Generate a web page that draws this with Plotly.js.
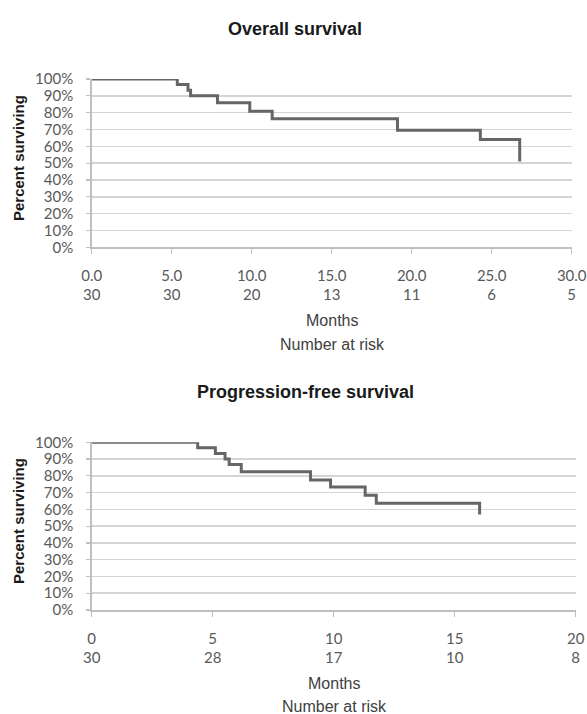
<!DOCTYPE html>
<html>
<head>
<meta charset="utf-8">
<script src="https://cdn.plot.ly/plotly-3.0.1.min.js"></script>
<style>html,body{margin:0;padding:0;background:#fff;}#chart{width:587px;height:714px;}</style>
</head>
<body>
<div id="chart"></div>
<script>
// Overall survival
const osMonths = [0, 5.35, 6.02, 6.18, 7.86, 9.88, 11.28, 19.11, 24.29, 26.75];
const osSurv   = [100, 96.7, 93.3, 90, 85.9, 80.8, 76.4, 69.6, 64, 51];
const osTicks  = [0, 5, 10, 15, 20, 25, 30];
const osTickLabels = ['0.0', '5.0', '10.0', '15.0', '20.0', '25.0', '30.0'];
const osAtRisk = [30, 30, 20, 13, 11, 6, 5];

// Progression-free survival
const pfsMonths = [0, 4.38, 5.11, 5.51, 5.68, 6.18, 9.04, 9.87, 11.3, 11.76, 16.03];
const pfsSurv   = [100, 96.7, 93.3, 90, 86.7, 82.5, 77.5, 73.3, 68.5, 63.6, 57];
const pfsTicks  = [0, 5, 10, 15, 20];
const pfsTickLabels = ['0', '5', '10', '15', '20'];
const pfsAtRisk = [30, 28, 17, 10, 8];

const yTicks = [0, 10, 20, 30, 40, 50, 60, 70, 80, 90, 100];
const yTickLabels = yTicks.map(v => v + '%');

const tickFont = {family: 'Lato, "Open Sans", sans-serif', size: 15, color: '#595959'};
const titleFont = {family: '"Liberation Sans", Arial, sans-serif', size: 18, color: '#1a1a1a'};
const labelFont = {family: '"Liberation Sans", Arial, sans-serif', size: 16, color: '#404040'};
const yTitleFont = {family: '"Liberation Sans", Arial, sans-serif', size: 15, color: '#1a1a1a'};

const H = 714, W = 587;
const py = v => 1 - v / H;
const px = v => v / W;

function xAxis(ticks, labels, risk, domain, range) {
  return {
    domain: domain, range: range, tickmode: 'array', tickvals: ticks,
    ticktext: labels.map((l, i) => l + '<br>' + risk[i]),
    showgrid: false, zeroline: false, showline: true, linecolor: '#bfbfbf', linewidth: 1.5,
    ticks: 'outside', ticklen: 5, tickcolor: '#bfbfbf', tickwidth: 1.2,
    tickfont: tickFont, ticklabelstandoff: 9, fixedrange: true
  };
}
function yAxis(domain, anchor) {
  return {
    domain: domain, range: [0, 100], anchor: anchor, tickmode: 'array', tickvals: yTicks, ticktext: yTickLabels,
    showgrid: true, gridcolor: '#d4d4d4', gridwidth: 1.5, zeroline: false,
    showline: true, linecolor: '#bfbfbf', linewidth: 1.5,
    ticks: 'outside', ticklen: 4, tickcolor: '#bfbfbf', tickwidth: 1.2,
    tickfont: tickFont, ticklabelstandoff: 10, fixedrange: true
  };
}

const traces = [
  {x: osMonths, y: osSurv, xaxis: 'x', yaxis: 'y', type: 'scatter', mode: 'lines',
   line: {shape: 'hv', color: '#666666', width: 3}, showlegend: false, hoverinfo: 'skip'},
  {x: pfsMonths, y: pfsSurv, xaxis: 'x2', yaxis: 'y2', type: 'scatter', mode: 'lines',
   line: {shape: 'hv', color: '#666666', width: 3}, showlegend: false, hoverinfo: 'skip'}
];

const layout = {
  width: W, height: H, margin: {l: 0, r: 0, t: 0, b: 0},
  paper_bgcolor: '#fff', plot_bgcolor: '#fff', showlegend: false,
  xaxis: xAxis(osTicks, osTickLabels, osAtRisk, [px(91.7), px(571.7)], [0, 30]),
  yaxis: yAxis([py(247.3), py(79)], 'x'),
  xaxis2: Object.assign(xAxis(pfsTicks, pfsTickLabels, pfsAtRisk, [px(91.7), px(575.7)], [0, 20]), {anchor: 'y2'}),
  yaxis2: yAxis([py(610), py(442.3)], 'x2'),
  annotations: [
    {text: '<b>Overall survival</b>', x: px(295), y: py(29), xref: 'paper', yref: 'paper', showarrow: false, font: titleFont, xanchor: 'center', yanchor: 'middle'},
    {text: '<b>Progression-free survival</b>', x: px(305), y: py(392), xref: 'paper', yref: 'paper', showarrow: false, font: titleFont, xanchor: 'center', yanchor: 'middle'},
    {text: '<b>Percent surviving</b>', x: px(18), y: py(158), xref: 'paper', yref: 'paper', showarrow: false, textangle: -90, font: yTitleFont, xanchor: 'center', yanchor: 'middle'},
    {text: '<b>Percent surviving</b>', x: px(18), y: py(521), xref: 'paper', yref: 'paper', showarrow: false, textangle: -90, font: yTitleFont, xanchor: 'center', yanchor: 'middle'},
    {text: 'Months', x: px(332), y: py(320), xref: 'paper', yref: 'paper', showarrow: false, font: labelFont, xanchor: 'center', yanchor: 'middle'},
    {text: 'Number at risk', x: px(332), y: py(344), xref: 'paper', yref: 'paper', showarrow: false, font: labelFont, xanchor: 'center', yanchor: 'middle'},
    {text: 'Months', x: px(334), y: py(683), xref: 'paper', yref: 'paper', showarrow: false, font: labelFont, xanchor: 'center', yanchor: 'middle'},
    {text: 'Number at risk', x: px(334), y: py(706), xref: 'paper', yref: 'paper', showarrow: false, font: labelFont, xanchor: 'center', yanchor: 'middle'}
  ]
};

Plotly.newPlot('chart', traces, layout, {displayModeBar: false, staticPlot: true});
</script>
</body>
</html>
